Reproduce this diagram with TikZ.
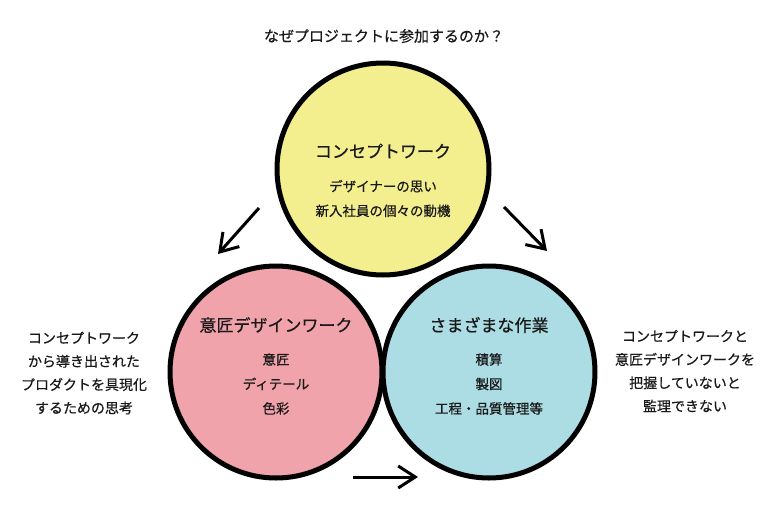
\documentclass[tikz,border=0pt]{standalone}
\usepackage{fontspec}
\setmainfont{Noto Sans CJK JP}[FakeBold=0.6]
\usepackage{tikz}
\usetikzlibrary{arrows.meta,positioning}
\definecolor{cyel}{RGB}{243,238,142}
\definecolor{cpnk}{RGB}{240,163,170}
\definecolor{cblu}{RGB}{173,221,228}
\definecolor{ink}{RGB}{25,25,25}
\tikzset{
  circ/.style ={circle,draw=black,line width=5pt,minimum size=212pt,inner sep=0pt},
  ttl/.style  ={font=\fontsize{17}{20}\selectfont,text=ink,inner sep=0pt},
  itm/.style  ={font=\fontsize{13.5}{24.5}\selectfont,text=ink,align=center,inner sep=0pt},
  note/.style ={font=\fontsize{14}{23.3}\selectfont,text=ink,align=center,inner sep=0pt},
  ar/.style   ={-{Straight Barb[length=17pt,width=22pt]},line width=3pt},
}

\begin{document}
\begin{tikzpicture}[x=1pt,y=-1pt]
  \useasboundingbox (0,0) rectangle (780,520);
  % question
  \node[font=\fontsize{15}{18}\selectfont,text=ink,inner sep=0pt] (q) at (384,36) {なぜプロジェクトに参加するのか？};
  % circles
  \node[circ,fill=cyel] (yc) at (383,169) {};
  \node[circ,fill=cpnk] (pc) at (276,372) {};
  \node[circ,fill=cblu] (bc) at (489,372) {};
  % circle texts
  \node[ttl] (yt) at ([yshift=18pt]yc.center) {コンセプトワーク};
  \node[itm] (yi) at ([yshift=-29.5pt]yc.center) {デザイナーの思い\\新入社員の個々の動機};
  \node[ttl] (pt) at ([yshift=47pt]pc.center) {意匠デザインワーク};
  \node[itm] (pi) at ([yshift=-12pt]pc.center) {意匠\\ディテール\\色彩};
  \node[ttl] (bt) at ([yshift=47pt]bc.center) {さまざまな作業};
  \node[itm] (bi) at ([yshift=-12pt]bc.center) {積算\\製図\\工程・品質管理等};
  % side notes
  \node[note] (ln) at (84,373) {コンセプトワーク\\から導き出された\\プロダクトを具現化\\するための思考};
  \node[note] (rn) at (685,371) {コンセプトワークと\\意匠デザインワークを\\把握していないと\\監理できない};
  % arrows
  \coordinate (a1) at (259,208);
  \coordinate (a2) at (218,254);
  \coordinate (b1) at (504,207);
  \coordinate (b2) at (547,251);
  \coordinate (c1) at (353,477);
  \coordinate (c2) at (418,477);
  \draw[ar] (a1) -- (a2);
  \draw[ar] (b1) -- (b2);
  \draw[ar] (c1) -- (c2);
\end{tikzpicture}
\end{document}
